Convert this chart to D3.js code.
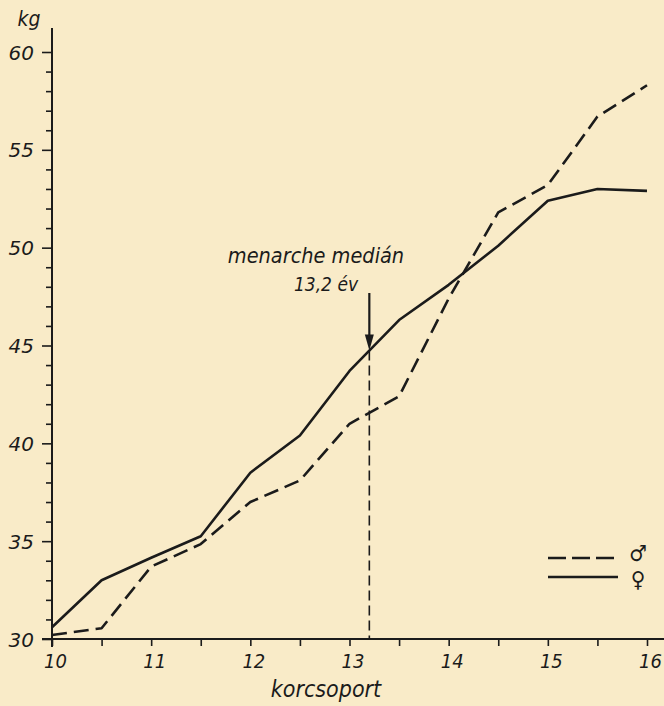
<!DOCTYPE html>
<html><head><meta charset="utf-8">
<script src="https://cdn.jsdelivr.net/npm/d3@7/dist/d3.min.js"></script>
<style>
html,body{margin:0;padding:0;background:#f9ebc8;}
svg{display:block;}
text{font-family:"DejaVu Sans Condensed","Liberation Sans Narrow","DejaVu Sans",sans-serif;font-style:italic;fill:#1b1b1b;}
</style></head>
<body>
<svg id="c" width="664" height="706"></svg>
<script>
// Data
const ages = [10,10.5,11,11.5,12,12.5,13,13.5,14,14.5,15,15.5,16];
const male   = [30.2,30.55,33.7,34.85,37.0,38.1,41.0,42.4,47.4,51.8,53.2,56.7,58.3];
const female = [30.6,33.0,34.15,35.25,38.5,40.4,43.7,46.3,48.1,50.1,52.4,53.0,52.9];
const xTickLabels = [10,11,12,13,14,15,16];
const yTickLabels = [30,35,40,45,50,55,60];
const menarche = 13.2;
const labels = {y:"kg", x:"korcsoport", ann1:"menarche medián", ann2:"13,2 év", male:"♂", female:"♀"};

const svg = d3.select("#c");
const ink = "#1b1b1b";
const x = d3.scaleLinear().domain([10,16]).range([52,647]);
const y = d3.scaleLinear().domain([30,60]).range([639,52]);

// Y axis
const yAxis = d3.axisLeft(y).tickValues(d3.range(30,61,1))
  .tickFormat(d => yTickLabels.includes(d) ? d : "").tickSize(6).tickPadding(12);
const gy = svg.append("g").attr("transform",`translate(${x(10)},0)`).call(yAxis);
gy.select(".domain").remove();
gy.selectAll(".tick line").attr("stroke",ink).attr("stroke-width",1.6)
  .attr("x2", d => yTickLabels.includes(d) ? -10 : -6);
gy.selectAll(".tick text").attr("font-size",20).style("font-family","'DejaVu Sans',sans-serif").attr("fill",ink).attr("dy","0.35em");
svg.append("line").attr("x1",x(10)).attr("x2",x(10)).attr("y1",28).attr("y2",y(30)+8)
  .attr("stroke",ink).attr("stroke-width",2);

// X axis
const xAxis = d3.axisBottom(x).tickValues(d3.range(10,16.01,0.5))
  .tickFormat(d => xTickLabels.includes(d) ? d : "").tickSize(7).tickPadding(8);
const gx = svg.append("g").attr("transform",`translate(0,${y(30)})`).call(xAxis);
gx.select(".domain").remove();
gx.selectAll(".tick line").attr("stroke",ink).attr("stroke-width",1.6);
gx.selectAll(".tick text").attr("font-size",20).style("font-family",null).attr("fill",ink).attr("dx","3");
svg.append("line").attr("x1",42).attr("x2",664).attr("y1",y(30)).attr("y2",y(30))
  .attr("stroke",ink).attr("stroke-width",2);

// axis titles
svg.append("text").attr("x",29).attr("y",26).attr("text-anchor","middle").attr("font-size",21).text(labels.y);
svg.append("text").attr("x",326).attr("y",697).attr("text-anchor","middle").attr("font-size",23).text(labels.x);

// lines
const line = d3.line().x((d,i)=>x(ages[i])).y(d=>y(d));
svg.append("path").datum(female).attr("d",line).attr("fill","none").attr("stroke",ink)
  .attr("stroke-width",2.6).attr("stroke-linejoin","round");
svg.append("path").datum(male).attr("d",line).attr("fill","none").attr("stroke",ink)
  .attr("stroke-width",2.6).attr("stroke-dasharray","15,7").attr("stroke-linejoin","round");

// menarche marker
const fAt = (a) => { const i = d3.bisectLeft(ages,a)-1; const t=(a-ages[i])/(ages[i+1]-ages[i]); return female[i]+t*(female[i+1]-female[i]); };
const mx = x(menarche), my = y(fAt(menarche));
svg.append("line").attr("x1",mx).attr("x2",mx).attr("y1",my).attr("y2",y(30))
  .attr("stroke",ink).attr("stroke-width",1.6).attr("stroke-dasharray","10,5");
svg.append("line").attr("x1",mx).attr("x2",mx).attr("y1",293).attr("y2",my-12)
  .attr("stroke",ink).attr("stroke-width",2.2);
svg.append("path").attr("d",`M${mx-4.5},${my-16}L${mx+4.5},${my-16}L${mx},${my}Z`).attr("fill",ink);
svg.append("text").attr("x",316).attr("y",263).attr("text-anchor","middle").attr("font-size",21.5).text(labels.ann1);
svg.append("text").attr("x",326).attr("y",291).attr("text-anchor","middle").attr("font-size",19).text(labels.ann2);

// legend
svg.append("line").attr("x1",548).attr("x2",614).attr("y1",558).attr("y2",558)
  .attr("stroke",ink).attr("stroke-width",2.6).attr("stroke-dasharray","18,6");
svg.append("line").attr("x1",548).attr("x2",618).attr("y1",577).attr("y2",577)
  .attr("stroke",ink).attr("stroke-width",2.6);
svg.append("text").attr("x",638).attr("y",561).attr("text-anchor","middle").attr("font-size",22).style("font-style","normal").text(labels.male);
svg.append("text").attr("x",638).attr("y",587).attr("text-anchor","middle").attr("font-size",22).style("font-style","normal").text(labels.female);
</script>
</body></html>
